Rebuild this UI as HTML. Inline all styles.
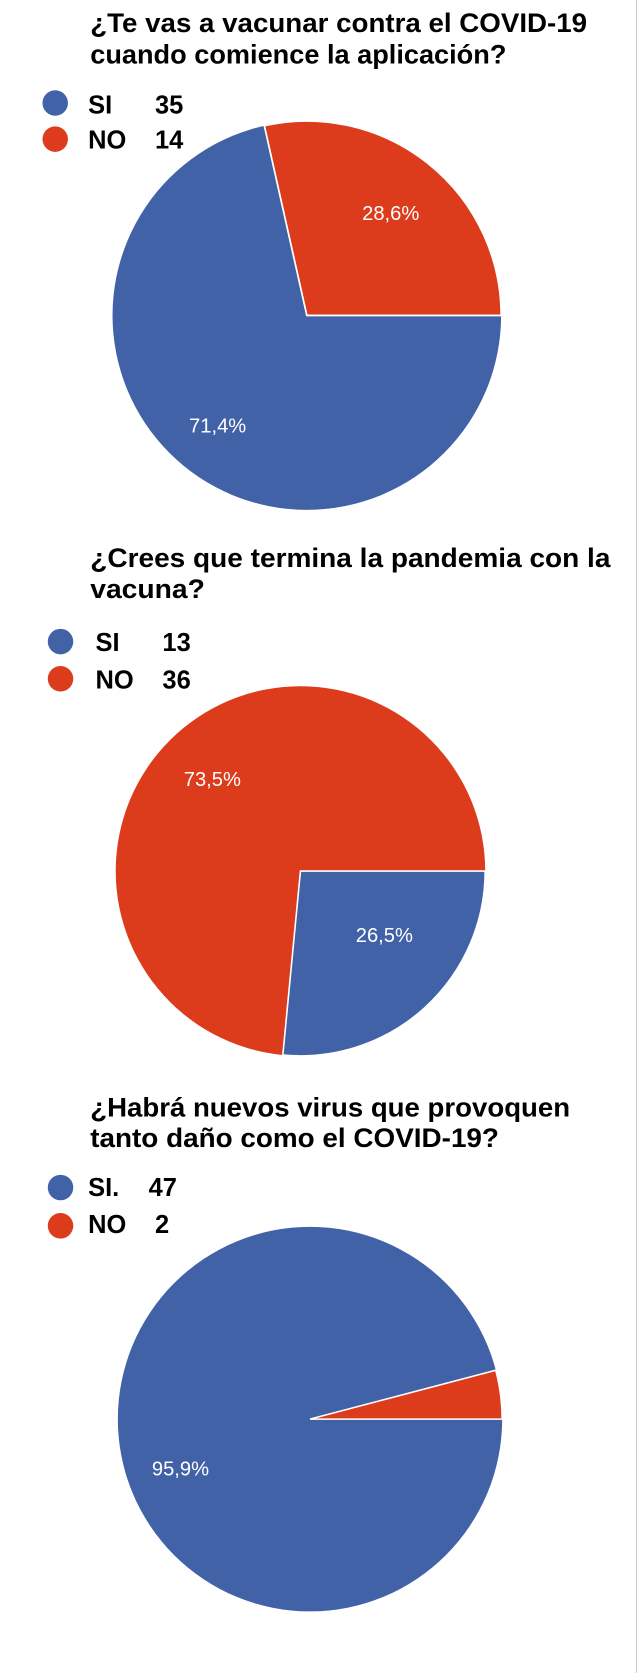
<!DOCTYPE html>
<html><head><meta charset="utf-8"><style>
html,body{margin:0;padding:0;background:#fff;}
svg{display:block;}
text{font-family:"Liberation Sans",Arial,sans-serif;}
</style></head><body>
<svg width="637" height="1673" viewBox="0 0 600 1575" preserveAspectRatio="none" xmlns="http://www.w3.org/2000/svg">
<rect width="600" height="1575" fill="#fff"/>
<line x1="599.5" y1="0" x2="599.5" y2="1575" stroke="#ccc" stroke-width="1"/>
<g font-weight="bold" fill="#000" font-size="25">
<text x="85" y="30" textLength="468" lengthAdjust="spacingAndGlyphs">¿Te vas a vacunar contra el COVID-19</text>
<text x="85" y="60" textLength="392" lengthAdjust="spacingAndGlyphs">cuando comience la aplicación?</text>
<text x="85" y="534" textLength="490" lengthAdjust="spacingAndGlyphs">¿Crees que termina la pandemia con la</text>
<text x="85" y="563" textLength="108" lengthAdjust="spacingAndGlyphs">vacuna?</text>
<text x="85" y="1051" textLength="452" lengthAdjust="spacingAndGlyphs">¿Habrá nuevos virus que provoquen</text>
<text x="85" y="1080" textLength="385" lengthAdjust="spacingAndGlyphs">tanto daño como el COVID-19?</text>
</g>
<g font-weight="bold" font-size="24" fill="#000">
<circle cx="52" cy="97" r="12" fill="#4262a8"/><text x="83" y="107">SI</text><text x="146" y="107">35</text>
<circle cx="52" cy="131" r="12" fill="#dc3b1c"/><text x="83" y="140">NO</text><text x="146" y="140">14</text>
<circle cx="57" cy="604" r="12" fill="#4262a8"/><text x="90" y="613">SI</text><text x="153" y="613">13</text>
<circle cx="57" cy="639" r="12" fill="#dc3b1c"/><text x="90" y="648">NO</text><text x="153" y="648">36</text>
<circle cx="57" cy="1118" r="12" fill="#4262a8"/><text x="83" y="1126">SI.</text><text x="140" y="1126">47</text>
<circle cx="57" cy="1154" r="12" fill="#dc3b1c"/><text x="83" y="1161">NO</text><text x="146" y="1161">2</text>
</g>
<!-- Pie 1 -->
<g stroke="#fff" stroke-width="1.5">
<circle cx="289" cy="297" r="183" fill="#4262a8" stroke="none"/>
<path d="M289 297 L472 297 A183 183 0 0 0 249 118.4 Z" fill="#dc3b1c"/>
<line x1="289" y1="297" x2="472" y2="297"/><line x1="289" y1="297" x2="249" y2="118.4"/>
</g>
<!-- Pie 2 -->
<g stroke="#fff" stroke-width="1.5">
<circle cx="283" cy="820" r="174" fill="#dc3b1c" stroke="none"/>
<path d="M283 820 L457 820 A174 174 0 0 1 266.4 993.2 Z" fill="#4262a8"/>
</g>
<!-- Pie 3 -->
<g stroke="#fff" stroke-width="1.5">
<circle cx="292" cy="1336" r="181" fill="#4262a8" stroke="none"/>
<path d="M292 1336 L473 1336 A181 181 0 0 0 467 1290 Z" fill="#dc3b1c"/>
</g>
<g fill="#fff" font-size="19">
<text x="368" y="207" text-anchor="middle">28,6%</text>
<text x="205" y="407" text-anchor="middle">71,4%</text>
<text x="200" y="740" text-anchor="middle">73,5%</text>
<text x="362" y="887" text-anchor="middle">26,5%</text>
<text x="170" y="1389" text-anchor="middle">95,9%</text>
</g>
</svg>
</body></html>
